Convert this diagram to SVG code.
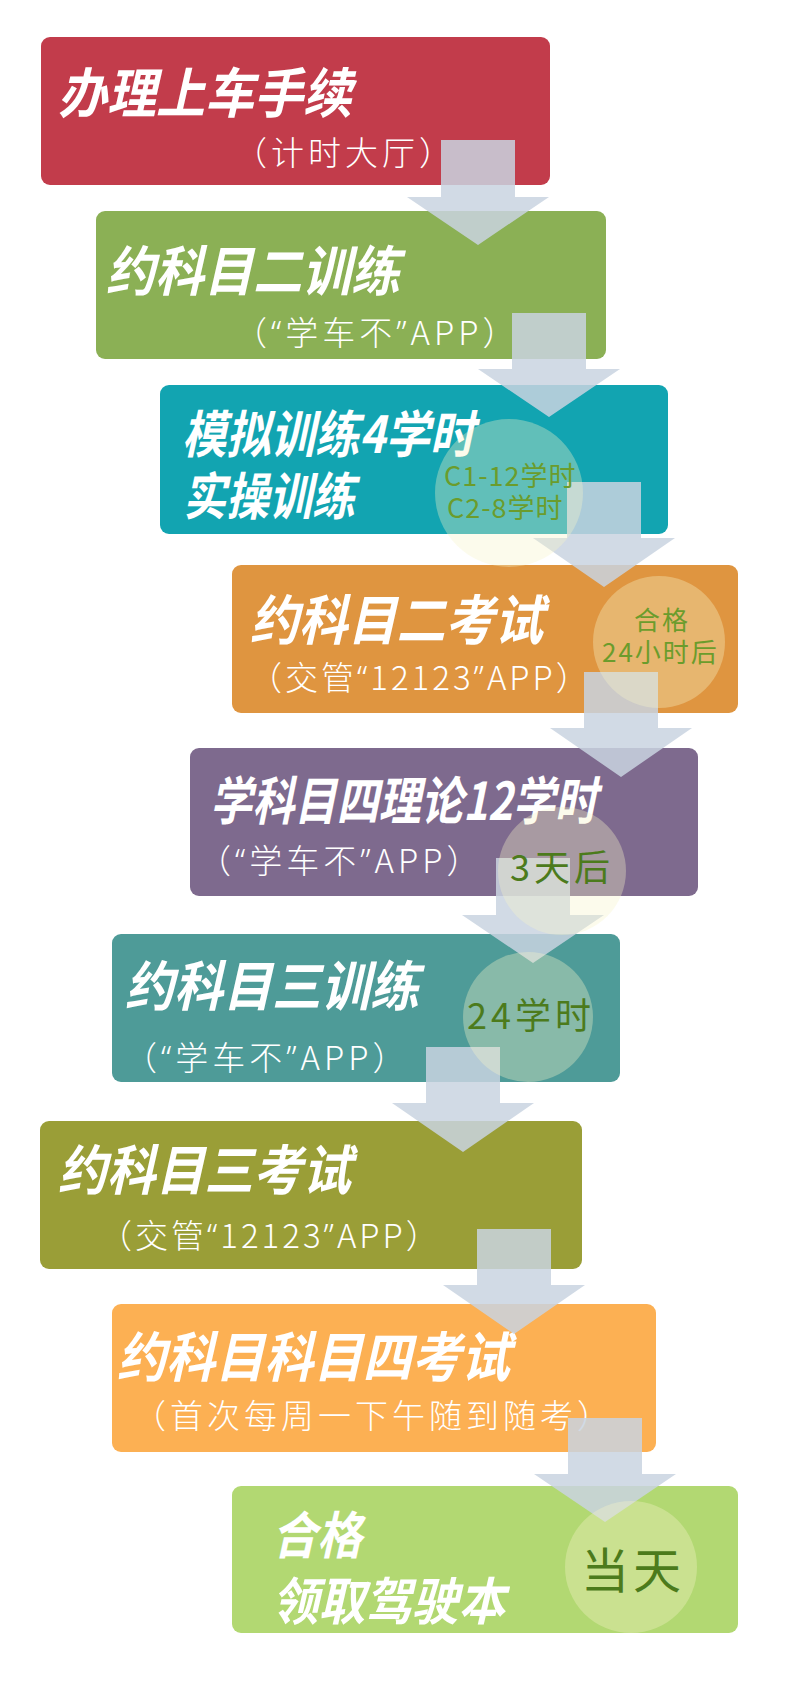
<svg xmlns="http://www.w3.org/2000/svg" width="800" height="1700" viewBox="0 0 800 1700">
<style>
.box{stroke:none}
.title{font-family:"Noto Sans CJK SC","Noto Sans",sans-serif;font-weight:700;font-style:italic;fill:#fff}
.sub{font-family:"Noto Sans CJK SC","Noto Sans",sans-serif;font-weight:300;fill:#fff;font-size:33px;letter-spacing:4px}
.sub3{letter-spacing:3px}
.q{font-family:"Noto Sans",sans-serif}
.arrow{fill:#C9D3E0;fill-opacity:0.85}
.badge{fill:#F6F4C8;fill-opacity:0.35}
.bt{font-family:"Noto Sans CJK SC","Noto Sans",sans-serif;font-weight:400}
.bt1{fill:#6B9C2C}
.bt2{fill:#4C7B1C}
</style>
<rect width="800" height="1700" fill="#fff"/>
<g id="node1">
<rect class="box" x="41" y="37" width="509" height="148" rx="9" fill="#C23C4B"/>
<text class="title" x="58" y="113" font-size="54" textLength="294" lengthAdjust="spacingAndGlyphs">办理上车手续</text>
<text class="sub" x="234" y="165">（计时大厅）</text>
</g>
<g id="node2">
<rect class="box" x="96" y="211" width="510" height="148" rx="9" fill="#8BB055"/>
<text class="title" x="106" y="291" font-size="54" textLength="294" lengthAdjust="spacingAndGlyphs">约科目二训练</text>
<text class="sub" x="234" y="345">（<tspan class="q">“</tspan>学车不<tspan class="q">”</tspan>APP）</text>
</g>
<g id="node3">
<rect class="box" x="160" y="385" width="508" height="149" rx="9" fill="#12A4B1"/>
<text class="title" x="182" y="453" font-size="51" textLength="292" lengthAdjust="spacingAndGlyphs">模拟训练4学时</text>
<text class="title" x="183" y="515" font-size="51" textLength="172" lengthAdjust="spacingAndGlyphs">实操训练</text>
</g>
<g id="node4">
<rect class="box" x="232" y="565" width="506" height="148" rx="9" fill="#DF9540"/>
<text class="title" x="250" y="640" font-size="54" textLength="293" lengthAdjust="spacingAndGlyphs">约科目二考试</text>
<text class="sub sub3" x="249" y="690">（交管<tspan class="q">“</tspan>12123<tspan class="q">”</tspan>APP）</text>
</g>
<g id="node5">
<rect class="box" x="190" y="748" width="508" height="148" rx="9" fill="#7E6A8E"/>
<text class="title" x="210" y="820" font-size="52" textLength="387" lengthAdjust="spacingAndGlyphs">学科目四理论12学时</text>
<text class="sub" x="198" y="873">（<tspan class="q">“</tspan>学车不<tspan class="q">”</tspan>APP）</text>
</g>
<g id="node6">
<rect class="box" x="112" y="934" width="508" height="148" rx="9" fill="#4E9B98"/>
<text class="title" x="125" y="1006" font-size="54" textLength="294" lengthAdjust="spacingAndGlyphs">约科目三训练</text>
<text class="sub" x="124" y="1070">（<tspan class="q">“</tspan>学车不<tspan class="q">”</tspan>APP）</text>
</g>
<g id="node7">
<rect class="box" x="40" y="1121" width="542" height="148" rx="9" fill="#9A9E37"/>
<text class="title" x="58" y="1190" font-size="54" textLength="293" lengthAdjust="spacingAndGlyphs">约科目三考试</text>
<text class="sub sub3" x="99" y="1248">（交管<tspan class="q">“</tspan>12123<tspan class="q">”</tspan>APP）</text>
</g>
<g id="node8">
<rect class="box" x="112" y="1304" width="544" height="148" rx="9" fill="#FCB053"/>
<text class="title" x="117" y="1377" font-size="54" textLength="393" lengthAdjust="spacingAndGlyphs">约科目科目四考试</text>
<text class="sub" x="133" y="1428">（首次每周一下午随到随考）</text>
</g>
<g id="node9">
<rect class="box" x="232" y="1486" width="506" height="147" rx="9" fill="#B2D872"/>
<text class="title" x="272" y="1554" font-size="51" textLength="90" lengthAdjust="spacingAndGlyphs">合格</text>
<text class="title" x="272" y="1620" font-size="51" textLength="233" lengthAdjust="spacingAndGlyphs">领取驾驶本</text>
</g>
<g id="connectors">
<path class="arrow" d="M441 140H515V197H549L478 245L407 197H441Z"/>
<path class="arrow" d="M512 313H586V369H620L549 417L478 369H512Z"/>
<path class="arrow" d="M567 482H641V538H675L604 587L533 538H567Z"/>
<path class="arrow" d="M584 672H658V728H692L621 777L550 728H584Z"/>
<path class="arrow" d="M496 858H570V915H604L533 963L462 915H496Z"/>
<path class="arrow" d="M426 1047H500V1103H534L463 1152L392 1103H426Z"/>
<path class="arrow" d="M477 1229H551V1285H585L514 1334L443 1285H477Z"/>
<path class="arrow" d="M568 1418H642V1474H676L605 1522L534 1474H568Z"/>
</g>
<g id="badge3">
<circle class="badge" cx="509" cy="493" r="74"/>
<text class="bt bt1" x="444" y="486" font-size="27" letter-spacing="1">C1-12学时</text>
<text class="bt bt1" x="447" y="518" font-size="27" letter-spacing="1">C2-8学时</text>
</g>
<g id="badge4">
<circle class="badge" cx="659" cy="642" r="66"/>
<text class="bt bt1" x="634" y="630" font-size="26" letter-spacing="2">合格</text>
<text class="bt bt1" x="602" y="662" font-size="26" letter-spacing="2">24小时后</text>
</g>
<g id="badge5">
<circle class="badge" cx="562" cy="871" r="64"/>
<text class="bt bt2" x="510" y="881" font-size="36" letter-spacing="4">3天后</text>
</g>
<g id="badge6">
<circle class="badge" cx="528" cy="1017" r="65"/>
<text class="bt bt2" x="467" y="1029" font-size="36" letter-spacing="4">24学时</text>
</g>
<g id="badge9">
<circle class="badge" cx="631" cy="1567" r="66"/>
<text class="bt bt2" x="581" y="1588" font-size="48" letter-spacing="4">当天</text>
</g>
</svg>
